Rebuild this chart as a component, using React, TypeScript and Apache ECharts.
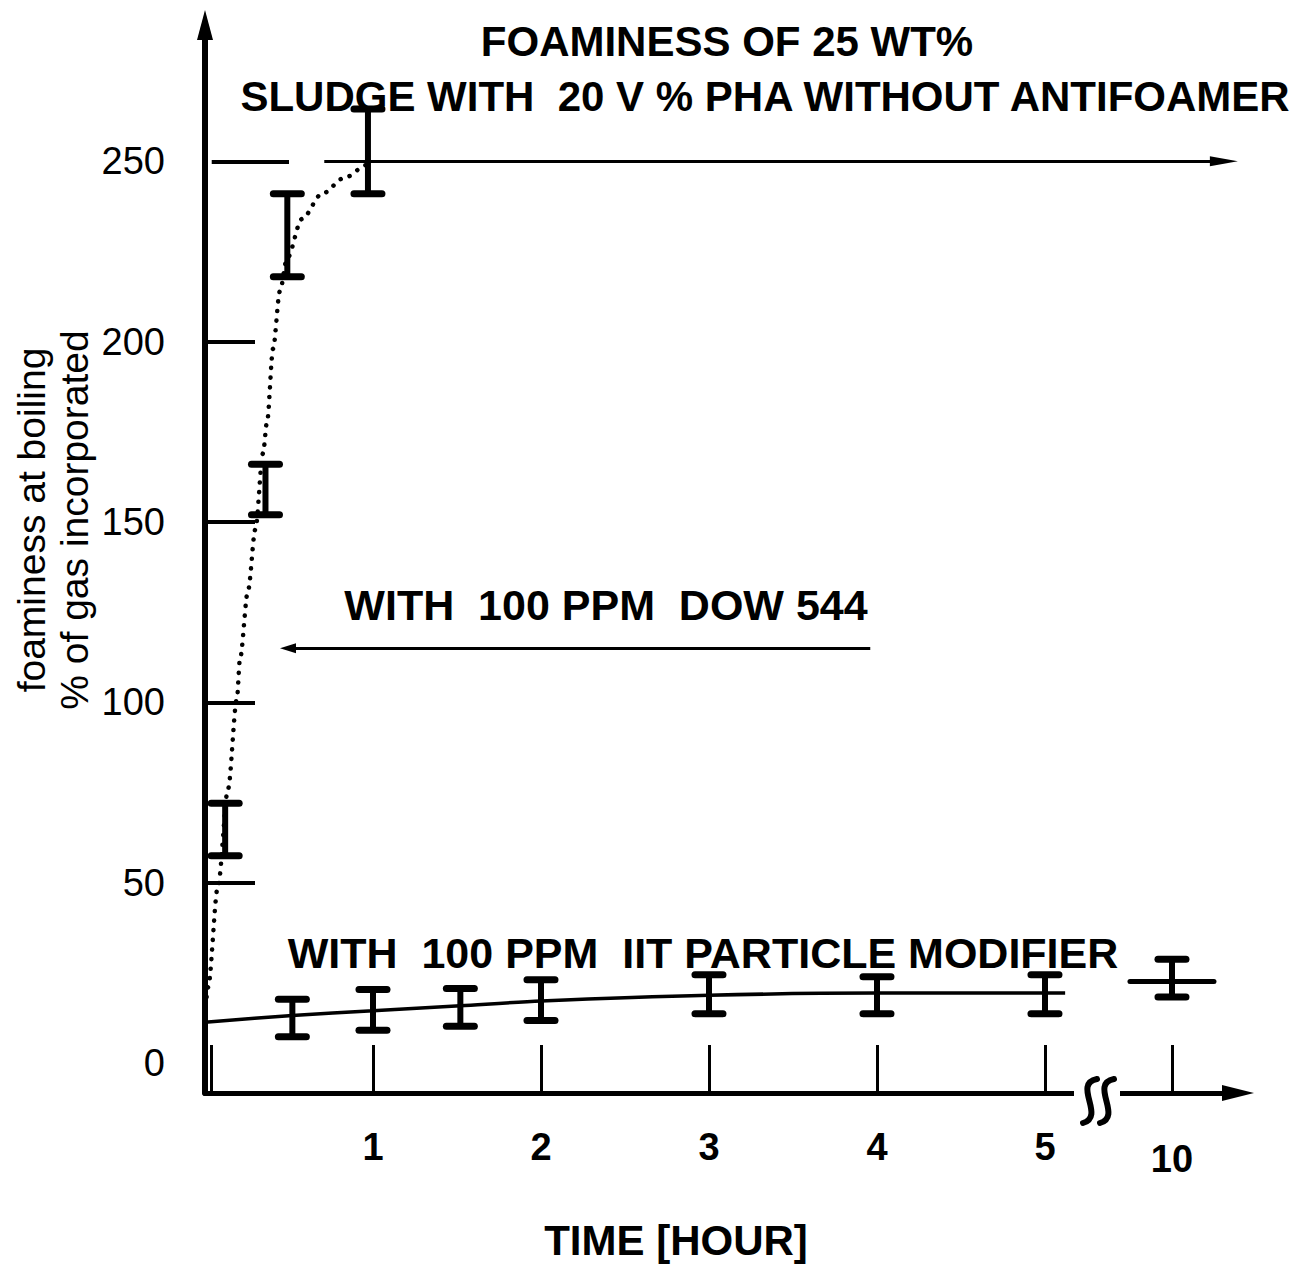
import React, { useEffect, useRef } from 'react';
import * as echarts from 'echarts';

const FONT = "'Liberation Sans', Arial, Helvetica, sans-serif";

// ---- axis definitions (hours; axis is broken after 5 h, 10 h shown past the break)
const xTickHours = [1, 2, 3, 4, 5, 10];
const yTickLabels = [0, 50, 100, 150, 200, 250];
const yTickMarks = [50, 100, 150, 200];
const BREAK_START = 5;
const BREAK_END = 10;
const BREAK_GAP = 0.756; // axis units between 5 h and 10 h
const toAxis = (h: number) => (h < BREAK_END ? h : BREAK_START + BREAK_GAP + (h - BREAK_END));

// ---- sludge without antifoamer: error bars (foaminess %)
const noAfHours = [0.12, 0.36, 0.49, 0.97];
const noAfLow = [57.5, 152, 218, 241];
const noAfHigh = [72, 166, 241, 264.5];
// dotted trend curve
const noAfFitHours = [0, 0.018, 0.077, 0.137, 0.19, 0.208, 0.256, 0.3, 0.345, 0.37, 0.405, 0.446, 0.488, 0.577, 0.696, 0.833, 0.964, 1.0];
const noAfFitValues = [13, 21, 49, 76, 101, 112, 131, 148, 169, 178, 198, 214, 223, 234, 241, 245.5, 249, 250];
// plateau level with arrow
const plateauValue = 250;
const plateauFrom = 0.71; // axis units
const plateauTo = 6.065;

// ---- with 100 ppm IIT particle modifier
const iitHours = [0.52, 1, 1.52, 2, 3, 4, 5, 10];
const iitLow = [7.3, 9.1, 10.2, 11.8, 13.7, 13.7, 13.7, 18.3];
const iitHigh = [17.7, 20.4, 20.7, 23.1, 24.5, 23.9, 24.5, 28.8];
const iitMean: (number | null)[] = [null, null, null, null, null, null, null, 22.6];
const iitFitHours = [0, 0.52, 1, 1.52, 2, 3, 4, 5, 5.12];
const iitFitValues = [11.3, 13.2, 14.5, 15.9, 17.2, 18.8, 19.4, 19.4, 19.4];

// ---- with 100 ppm DOW 544 (arrow annotation)
const dowLevel = 115;
const dowArrowFrom = 0.494; // arrow head (axis units)
const dowArrowTo = 3.96;

// 250 tick extension
const tick250From = 0.04;
const tick250To = 0.5;

function errorBarRenderer(means: (number | null)[] | null) {
  return (params: any, api: any) => {
    const x = api.value(0);
    const lo = api.value(1);
    const hi = api.value(2);
    const pLo = api.coord([x, lo]);
    const pHi = api.coord([x, hi]);
    const cap = 14;
    const children: any[] = [
      { type: 'line', shape: { x1: pLo[0], y1: pLo[1], x2: pHi[0], y2: pHi[1] }, style: { stroke: '#000', lineWidth: 6 } },
      { type: 'line', shape: { x1: pLo[0] - cap, y1: pLo[1], x2: pLo[0] + cap, y2: pLo[1] }, style: { stroke: '#000', lineWidth: 7, lineCap: 'round' } },
      { type: 'line', shape: { x1: pHi[0] - cap, y1: pHi[1], x2: pHi[0] + cap, y2: pHi[1] }, style: { stroke: '#000', lineWidth: 7, lineCap: 'round' } },
    ];
    if (means) {
      const m = means[params.dataIndex];
      if (m != null) {
        const pm = api.coord([x, m]);
        children.push({ type: 'line', shape: { x1: pm[0] - 42, y1: pm[1], x2: pm[0] + 42, y2: pm[1] }, style: { stroke: '#000', lineWidth: 5, lineCap: 'round' } });
      }
    }
    return { type: 'group', children };
  };
}

const lineSeg = (x1: number, x2: number, y: number, width: number, s1: string, s2: string, size: number[]) => [
  { coord: [x1, y], symbol: s1, symbolSize: size, lineStyle: { color: '#000', width, type: 'solid' } },
  { coord: [x2, y], symbol: s2, symbolSize: size },
];

const boldText = (text: string, x: number, y: number, size: number) => ({
  type: 'text',
  x,
  y,
  z: 100,
  style: { text, fill: '#000', fontSize: size, fontWeight: 'bold', fontFamily: FONT, align: 'center', verticalAlign: 'middle' },
});

export default function App() {
  const ref = useRef<HTMLDivElement>(null);
  useEffect(() => {
    document.body.style.margin = '0';
    document.body.style.overflow = 'hidden';
    const chart = echarts.init(ref.current!, null, { renderer: 'svg' });
    const xTickPos = xTickHours.map(toAxis);
    const labelFor = (v: number) => {
      const idx = xTickPos.findIndex((p) => Math.abs(p - v) < 1e-6);
      const h = idx >= 0 ? xTickHours[idx] : v;
      return h >= BREAK_END ? `{far|${h}}` : String(h);
    };
    const option: any = {
      animation: false,
      backgroundColor: '#fff',
      grid: { left: 205, right: 72, top: 25, bottom: 172 },
      xAxis: {
        type: 'value',
        min: 0,
        max: 6.149,
        axisLine: { show: true, onZero: false, lineStyle: { color: '#000', width: 5 }, symbol: ['none', 'triangle'], symbolSize: [16, 32] },
        axisTick: { show: true, inside: true, length: 48, lineStyle: { color: '#000', width: 3 }, customValues: [0.04, ...xTickPos] },
        axisLabel: {
          customValues: xTickPos,
          formatter: labelFor,
          margin: 35,
          color: '#000',
          fontSize: 38,
          fontWeight: 'bold',
          fontFamily: FONT,
          rich: { far: { padding: [12, 0, 0, 0], color: '#000', fontSize: 38, fontWeight: 'bold', fontFamily: FONT } },
        },
        splitLine: { show: false },
      },
      yAxis: {
        type: 'value',
        min: -8.3,
        max: 287.8,
        axisLine: { show: true, onZero: false, lineStyle: { color: '#000', width: 6 }, symbol: ['none', 'triangle'], symbolSize: [16, 30] },
        axisTick: { show: true, inside: true, length: 50, lineStyle: { color: '#000', width: 4 }, customValues: yTickMarks },
        axisLabel: { customValues: yTickLabels, margin: 40, color: '#000', fontSize: 38, fontFamily: FONT },
        splitLine: { show: false },
      },
      series: [
        {
          type: 'line',
          name: 'without antifoamer fit',
          data: noAfFitHours.map((h, i) => [toAxis(h), noAfFitValues[i]]),
          smooth: 0.3,
          smoothMonotone: 'x',
          symbol: 'none',
          lineStyle: { color: '#000', width: 4.5, type: [0.1, 9.5], cap: 'round' },
          silent: true,
          z: 2,
          markLine: {
            silent: true,
            animation: false,
            label: { show: false },
            emphasis: { disabled: true },
            data: [
              lineSeg(plateauFrom, plateauTo, plateauValue, 3, 'none', 'triangle', [10, 28]),
              lineSeg(tick250From, tick250To, plateauValue, 4, 'none', 'none', [1, 1]),
              lineSeg(dowArrowFrom, dowArrowTo, dowLevel, 3, 'triangle', 'none', [10, 16]),
            ],
          },
        },
        {
          type: 'custom',
          name: 'without antifoamer',
          data: noAfHours.map((h, i) => [toAxis(h), noAfLow[i], noAfHigh[i]]),
          encode: { x: 0, y: [1, 2] },
          renderItem: errorBarRenderer(null),
          silent: true,
          z: 5,
        },
        {
          type: 'line',
          name: 'IIT fit',
          data: iitFitHours.map((h, i) => [toAxis(h), iitFitValues[i]]),
          smooth: 0.3,
          symbol: 'none',
          lineStyle: { color: '#000', width: 3.5 },
          silent: true,
          z: 3,
        },
        {
          type: 'custom',
          name: 'with 100 ppm IIT particle modifier',
          data: iitHours.map((h, i) => [toAxis(h), iitLow[i], iitHigh[i]]),
          encode: { x: 0, y: [1, 2] },
          renderItem: errorBarRenderer(iitMean),
          silent: true,
          z: 5,
        },
      ],
      graphic: [
        boldText('FOAMINESS OF 25 WT%', 727, 41, 42),
        boldText('SLUDGE WITH  20 V % PHA WITHOUT ANTIFOAMER', 765, 96, 42),
        boldText('WITH  100 PPM  DOW 544', 606, 605, 43),
        boldText('WITH  100 PPM  IIT PARTICLE MODIFIER', 703, 953, 43),
        boldText('TIME [HOUR]', 676, 1240, 42),
        { type: 'text', x: 53, y: 520, rotation: Math.PI / 2, z: 100, style: { text: 'foaminess at boiling\n% of gas incorporated', fill: '#000', fontSize: 39, lineHeight: 43, fontFamily: FONT, align: 'center', verticalAlign: 'middle' } },
        // axis break symbol
        { type: 'rect', z: 100, shape: { x: 1074, y: 1084, width: 46, height: 18 }, style: { fill: '#fff' } },
        { type: 'bezierCurve', z: 101, shape: { x1: 1097, y1: 1079, cpx1: 1072, cpy1: 1084, cpx2: 1106, cpy2: 1116, x2: 1083, y2: 1123 }, style: { stroke: '#000', lineWidth: 6, lineCap: 'round', fill: 'none' } },
        { type: 'bezierCurve', z: 101, shape: { x1: 1114, y1: 1079, cpx1: 1089, cpy1: 1084, cpx2: 1123, cpy2: 1116, x2: 1100, y2: 1123 }, style: { stroke: '#000', lineWidth: 6, lineCap: 'round', fill: 'none' } },
      ],
    };
    chart.setOption(option);
    return () => chart.dispose();
  }, []);
  return <div ref={ref} style={{ width: 1310, height: 1265 }} />;
}
